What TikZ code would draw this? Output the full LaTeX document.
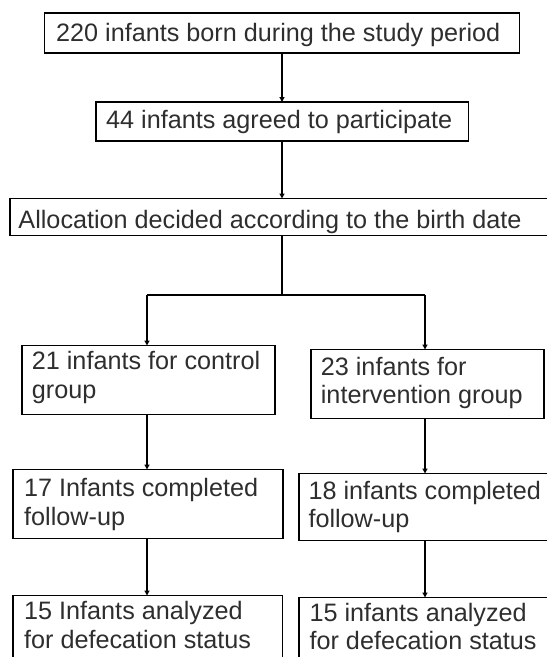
\documentclass[tikz,border=0pt]{standalone}
\usepackage{fontspec}
\setmainfont{Liberation Sans}
\usetikzlibrary{arrows.meta}
\begin{document}
\begin{tikzpicture}[x=1pt,y=-1pt,
  boxs/.style={draw=black, line width=1.8pt, anchor=north west, inner sep=0pt, outer sep=0pt},
  txt/.style={anchor=base west, align=left, inner sep=0pt, font=\fontsize{25.2}{28.3}\selectfont, text=black!82},
  conn/.style={line width=1.6pt, -{Triangle[length=5pt,width=5pt]}},
  plain/.style={line width=1.6pt}]
\useasboundingbox (0,0) rectangle (547,657);
\clip (0,0) rectangle (547,657);
% boxes
\node[boxs, minimum width=475pt, minimum height=40.5pt] (b1) at (44.5,12.7) {};
\node[boxs, minimum width=372.8pt, minimum height=39pt] (b2) at (95.7,102) {};
\node[boxs, minimum width=560pt, minimum height=37pt] (b3) at (10,198.5) {};
\node[boxs, minimum width=253.3pt, minimum height=69pt] (b4) at (21.7,345.5) {};
\node[boxs, minimum width=233pt, minimum height=69pt] (b5) at (310.7,349.5) {};
\node[boxs, minimum width=269.7pt, minimum height=69pt] (b6) at (13.3,469.5) {};
\node[boxs, minimum width=270pt, minimum height=67pt] (b7) at (299,473.5) {};
\node[boxs, minimum width=269.2pt, minimum height=80pt] (b8) at (13.3,595.5) {};
\node[boxs, minimum width=270pt, minimum height=80pt] (b9) at (299,597.5) {};
% texts (anchor = baseline of last line)
\node[txt] (t1) at (56,41.2) {220 infants born during the study period};
\node[txt] (t2) at (106,128.5) {44 infants agreed to participate};
\node[txt] (t3) at (18.3,228) {Allocation decided according to the birth date};
\node[txt] (t4) at (31.7,398) {21 infants for control\\group};
\node[txt] (t5) at (320.7,403.5) {23 infants for\\intervention group};
\node[txt] (t6) at (24,525) {17 Infants completed\\follow-up};
\node[txt] (t7) at (308.3,527.5) {18 infants completed\\follow-up};
\node[txt] (t8) at (24,648) {15 Infants analyzed\\for defecation status};
\node[txt] (t9) at (309.4,649.5) {15 infants analyzed\\for defecation status};
% connectors
\coordinate (sp) at (282,295);
\coordinate (spl) at (147,295);
\coordinate (spr) at (425,295);
\draw[conn] (b1.south) -- (b1.south |- b2.north);
\draw[conn] (b1.south |- b2.south) -- (b1.south |- b3.north);
\draw[plain] (b1.south |- b3.south) -- (sp);
\draw[plain] (spl) -- (spr);
\draw[conn] (spl) -- (spl |- b4.north);
\draw[conn] (spr) -- (spr |- b5.north);
\draw[conn] (spl |- b4.south) -- (spl |- b6.north);
\draw[conn] (spr |- b5.south) -- (spr |- b7.north);
\draw[conn] (spl |- b6.south) -- (spl |- b8.north);
\draw[conn] (spr |- b7.south) -- (spr |- b9.north);
\end{tikzpicture}
\end{document}
